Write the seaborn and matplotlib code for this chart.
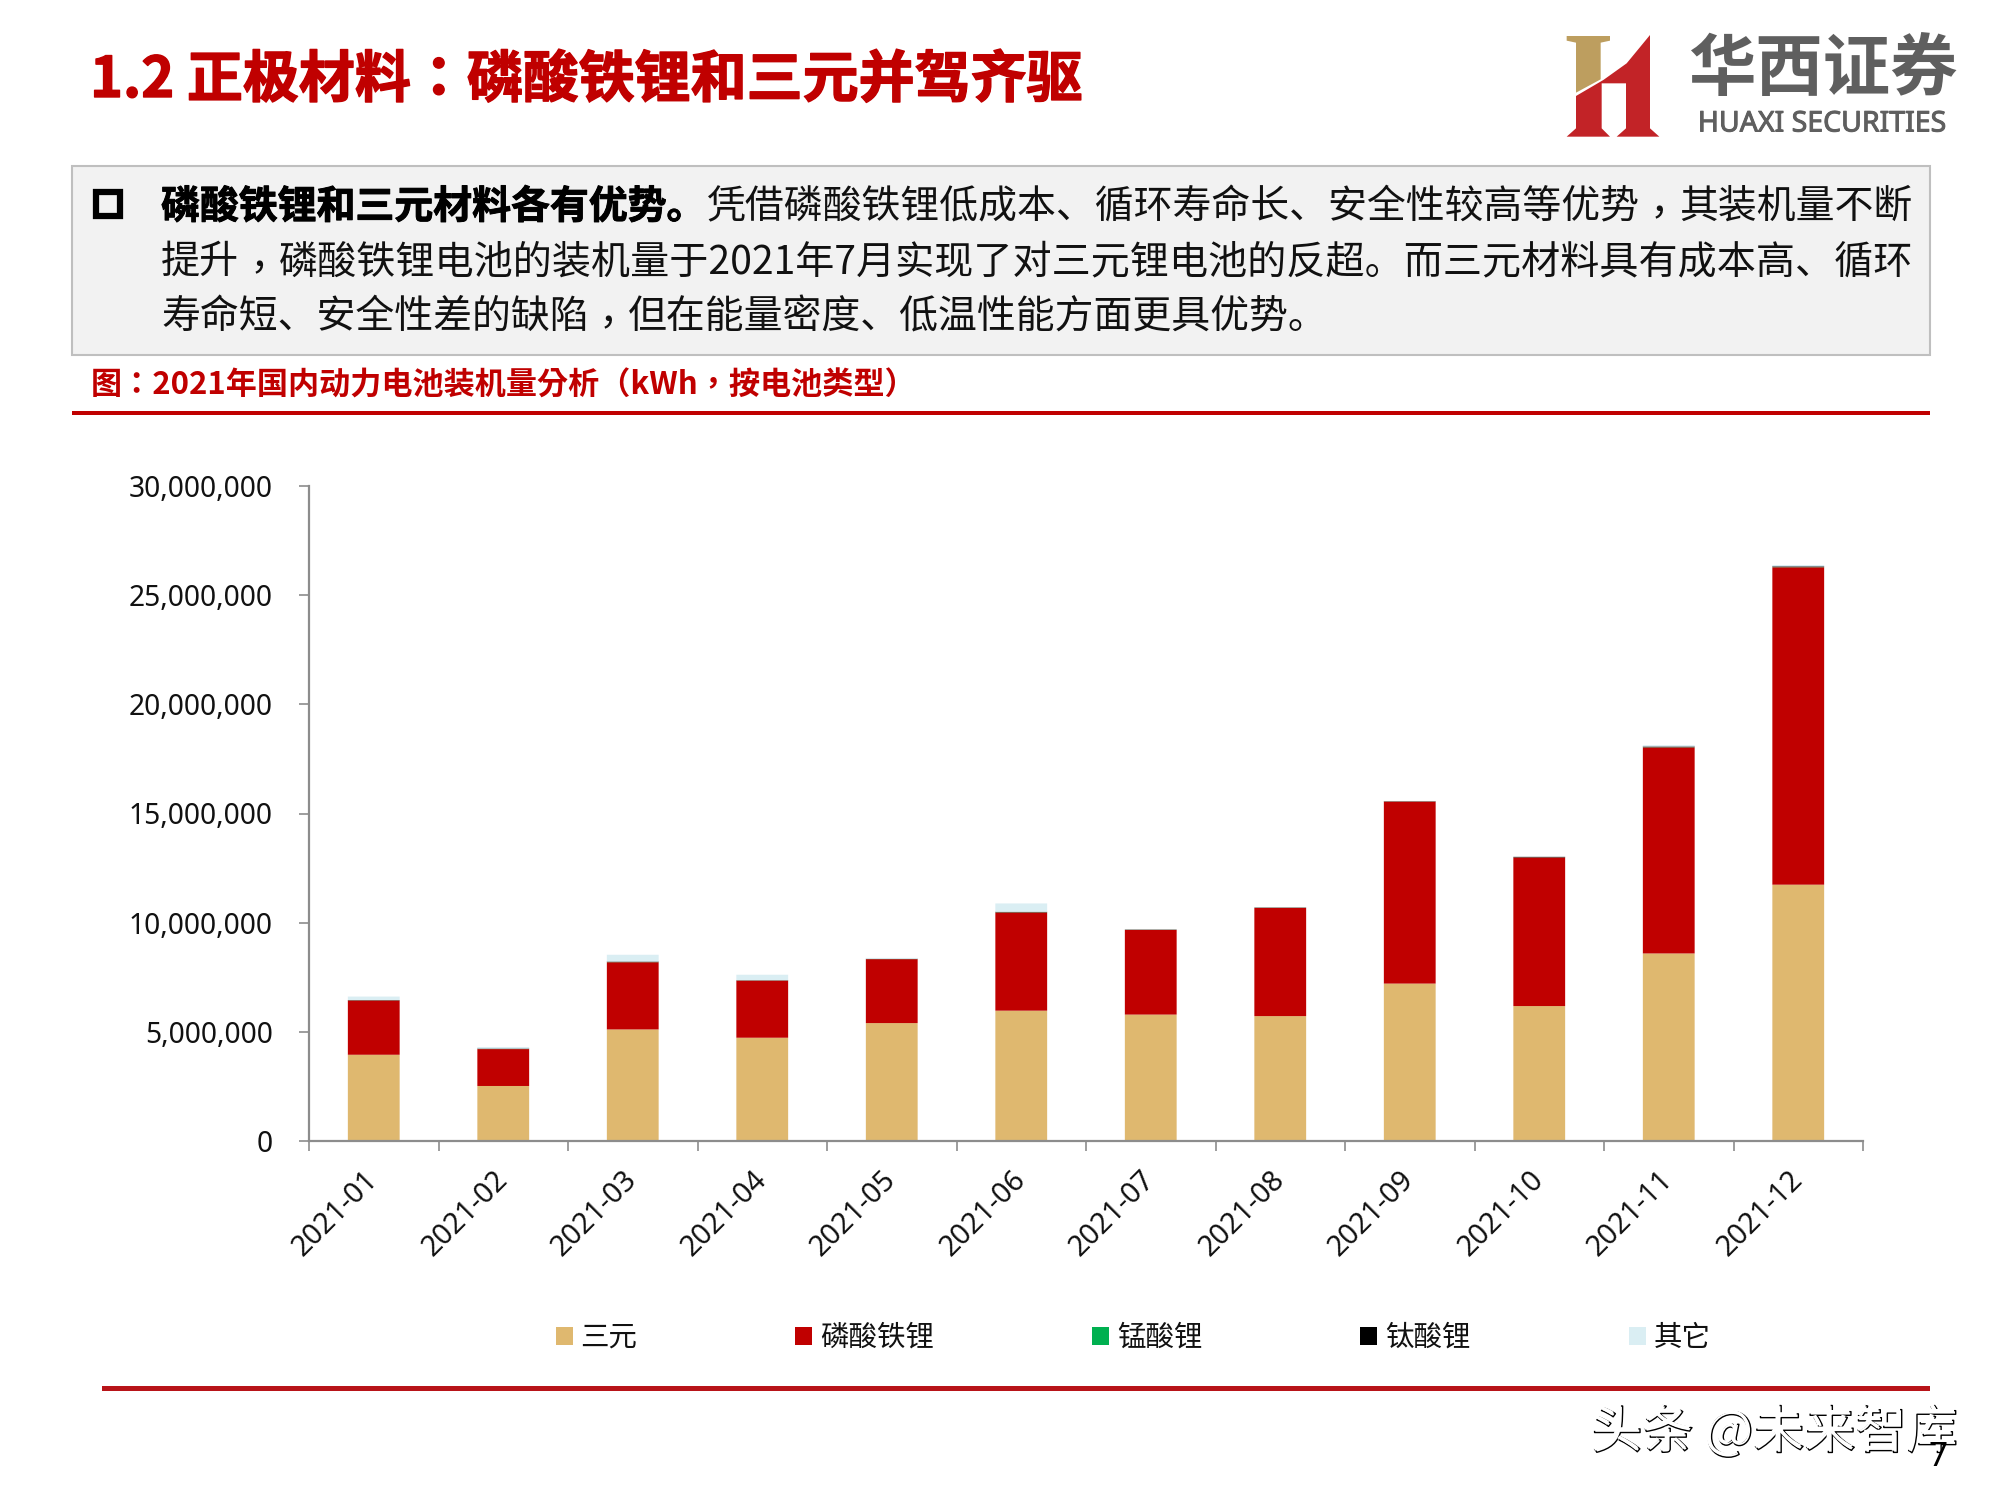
import re
import matplotlib
matplotlib.use('Agg')
import matplotlib.pyplot as plt
import matplotlib.patheffects as pe
from matplotlib.font_manager import FontProperties
from matplotlib.patches import Polygon, Rectangle
from matplotlib.ticker import FuncFormatter
import numpy as np
import seaborn as sns

# Data (kWh)
months = ['2021-01', '2021-02', '2021-03', '2021-04', '2021-05', '2021-06',
          '2021-07', '2021-08', '2021-09', '2021-10', '2021-11', '2021-12']
ternary = [3950000, 2520000, 5110000, 4730000, 5400000, 5970000,
           5790000, 5720000, 7210000, 6180000, 8590000, 11740000]
lfp = [2490000, 1690000, 3080000, 2620000, 2930000, 4500000,
       3880000, 4960000, 8340000, 6810000, 9440000, 14540000]
lmo = [5000, 5000, 10000, 5000, 5000, 10000, 5000, 5000, 5000, 5000, 10000, 10000]
lto = [10000, 20000, 20000, 10000, 10000, 20000, 10000, 10000, 10000, 20000, 30000, 30000]
other = [160000, 70000, 310000, 250000, 40000, 380000, 5000, 5000, 10000, 10000, 60000, 60000]

series_names = ['三元', '磷酸铁锂', '锰酸锂', '钛酸锂', '其它']
series_colors = ['#dfb86f', '#c00000', '#00b050', '#000000', '#daeef3']
yticks = [0, 5000000, 10000000, 15000000, 20000000, 25000000, 30000000]

title = '1.2 正极材料：磷酸铁锂和三元并驾齐驱'
body_bold = '磷酸铁锂和三元材料各有优势。'
body_1 = '凭借磷酸铁锂低成本、循环寿命长、安全性较高等优势，其装机量不断'
body_2 = '提升，磷酸铁锂电池的装机量于2021年7月实现了对三元锂电池的反超。而三元材料具有成本高、循环'
body_3 = '寿命短、安全性差的缺陷，但在能量密度、低温性能方面更具优势。'
subtitle = '图：2021年国内动力电池装机量分析（kWh，按电池类型）'

W, H = 2000, 1496
RED = '#c00000'
SC = ['Noto Sans CJK SC', 'DejaVu Sans']
TC = ['Noto Sans CJK TC', 'DejaVu Sans']  # centred full-width punctuation

sns.set_theme(style='white')
plt.rcParams['font.family'] = SC

fig = plt.figure(figsize=(W / 100, H / 100), dpi=100, facecolor='white')
renderer = fig.canvas.get_renderer()

# Page layer in pixel coordinates
page = fig.add_axes([0, 0, 1, 1])
page.set_xlim(0, W)
page.set_ylim(H, 0)
page.axis('off')


def body_line(x, y, text, size):
    # the comma sits mid-cell in the reference, so it is drawn in the TC face
    em = size * 100 / 72
    prop = FontProperties(family=SC, size=size)
    for piece in re.split('(，)', text):
        if piece == '，':
            page.text(x, y + 8, piece, fontsize=size, family=TC, color='#111111', va='center')
            x += em
        elif piece:
            page.text(x, y, piece, fontsize=size, color='#111111', va='center')
            x += renderer.get_text_width_height_descent(piece + '口', prop, False)[0] - em


heavy = [pe.withStroke(linewidth=1.0, foreground=RED)]
page.text(90, 81, title, color=RED, fontsize=40.3, weight='bold', family=TC, va='center',
          path_effects=heavy)

# Logo
def zx(v):
    return 1500 + v / 3
def zy(v):
    return v / 3
gold = [(200, 108), (330, 108), (330, 122), (302, 128), (302, 238), (228, 278), (228, 128), (200, 122)]
red = [(228, 288), (310, 240), (380, 190), (450, 105), (450, 385), (478, 410), (350, 410), (378, 385),
       (378, 250), (305, 250), (305, 385), (330, 410), (200, 410), (228, 385)]
page.add_patch(Polygon([(zx(a), zy(b)) for a, b in gold], closed=True, fc='#bd9e5f', ec='none'))
page.add_patch(Polygon([(zx(a), zy(b)) for a, b in red], closed=True, fc='#c22327', ec='none'))
page.text(1823, 70, '华西证券', color='#5f5f5f', fontsize=48.5, weight='bold', ha='center', va='center')
page.text(1822, 124, 'HUAXI SECURITIES', color='#5f5f5f', fontsize=20.5, family=['Noto Sans'],
          ha='center', va='center', path_effects=[pe.withStroke(linewidth=0.7, foreground='#5f5f5f')])

# Text box
page.add_patch(Rectangle((72, 166), 1858, 189, fc='#f2f2f2', ec='#bfbfbf', lw=1.5))
page.add_patch(Rectangle((96, 192), 24, 24, fc='none', ec='black', lw=4.5))
page.text(161, 207, body_bold, fontsize=28, weight='bold', color='black', va='center',
          path_effects=[pe.withStroke(linewidth=0.7, foreground='black')])
body_line(707, 207, body_1, 28)
body_line(161, 262, body_2, 28.13)
body_line(161, 317, body_3, 28)

page.text(91, 386, subtitle, fontsize=22.4, weight='bold', family=TC, color=RED, va='center')
page.add_patch(Rectangle((72, 411), 1858, 4, fc=RED, ec='none'))
page.add_patch(Rectangle((102, 1386), 1828, 5, fc='#b81419', ec='none'))

# Watermark and page number
page.text(1590, 1432, '头条 @未来智库', fontsize=36.8, color='white', va='center',
          path_effects=[pe.Stroke(linewidth=1.0, foreground='black', offset=(1.2, -1.2)), pe.Normal()])
page.text(1938, 1458, '7', fontsize=24, color='black', ha='center', va='center', family=['Noto Sans'])

# Chart
ax = fig.add_axes([309 / W, 1 - 1141 / H, (1863 - 309) / W, (1141 - 486) / H])
ax.patch.set_alpha(0)

bottom = np.zeros(len(months))
for name, color, vals in zip(series_names, series_colors, [ternary, lfp, lmo, lto, other]):
    sns.barplot(x=months, y=vals, bottom=bottom, color=color, saturation=1, width=0.4,
                linewidth=0, label=name, ax=ax)
    bottom = bottom + np.array(vals)
for bar in ax.patches:
    bar.set_snap(False)

ax.set_xlim(-0.5, 11.5)
ax.set_ylim(0, 30000000)
ax.set_yticks(yticks)
ax.yaxis.set_major_formatter(FuncFormatter(lambda v, p: f'{int(v):,}'))

AXIS = '#8c8c8c'
sns.despine(ax=ax)
for side in ['left', 'bottom']:
    ax.spines[side].set_color(AXIS)
    ax.spines[side].set_linewidth(1.6)

ax.set_xticks(range(len(months)), months)
ax.set_xticks(np.arange(-0.5, 12), minor=True)
ax.tick_params(axis='x', which='minor', length=7.5, width=1.2, color=AXIS, bottom=True)
ax.tick_params(axis='x', which='major', length=0, pad=25, labelsize=20.7, labelcolor='#111111')
ax.tick_params(axis='y', length=7.5, width=1.2, color=AXIS, left=True, pad=18.5, labelsize=20.3,
               labelcolor='#111111')
for lab in ax.get_xticklabels():
    lab.set_rotation(45)
    lab.set_ha('right')
    lab.set_va('center')
    lab.set_rotation_mode('anchor')
    lab.set_family(['Noto Sans'])
for lab in ax.get_yticklabels():
    lab.set_family(['Noto Sans'])
ax.set_xlabel('')
ax.set_ylabel('')

handles = [Rectangle((0, 0), 1, 1, fc=c, ec='none') for c in series_colors]
ax.legend(handles, series_names, ncol=5, frameon=False, fontsize=20.5, loc='center',
          bbox_to_anchor=(1133 / W, 1 - 1338 / H), bbox_transform=fig.transFigure,
          handlelength=0.6, handleheight=0.6, handletextpad=0.27, columnspacing=5.55,
          borderpad=0, labelcolor='#111111')

fig.savefig('out.png', dpi=100)
plt.close(fig)
